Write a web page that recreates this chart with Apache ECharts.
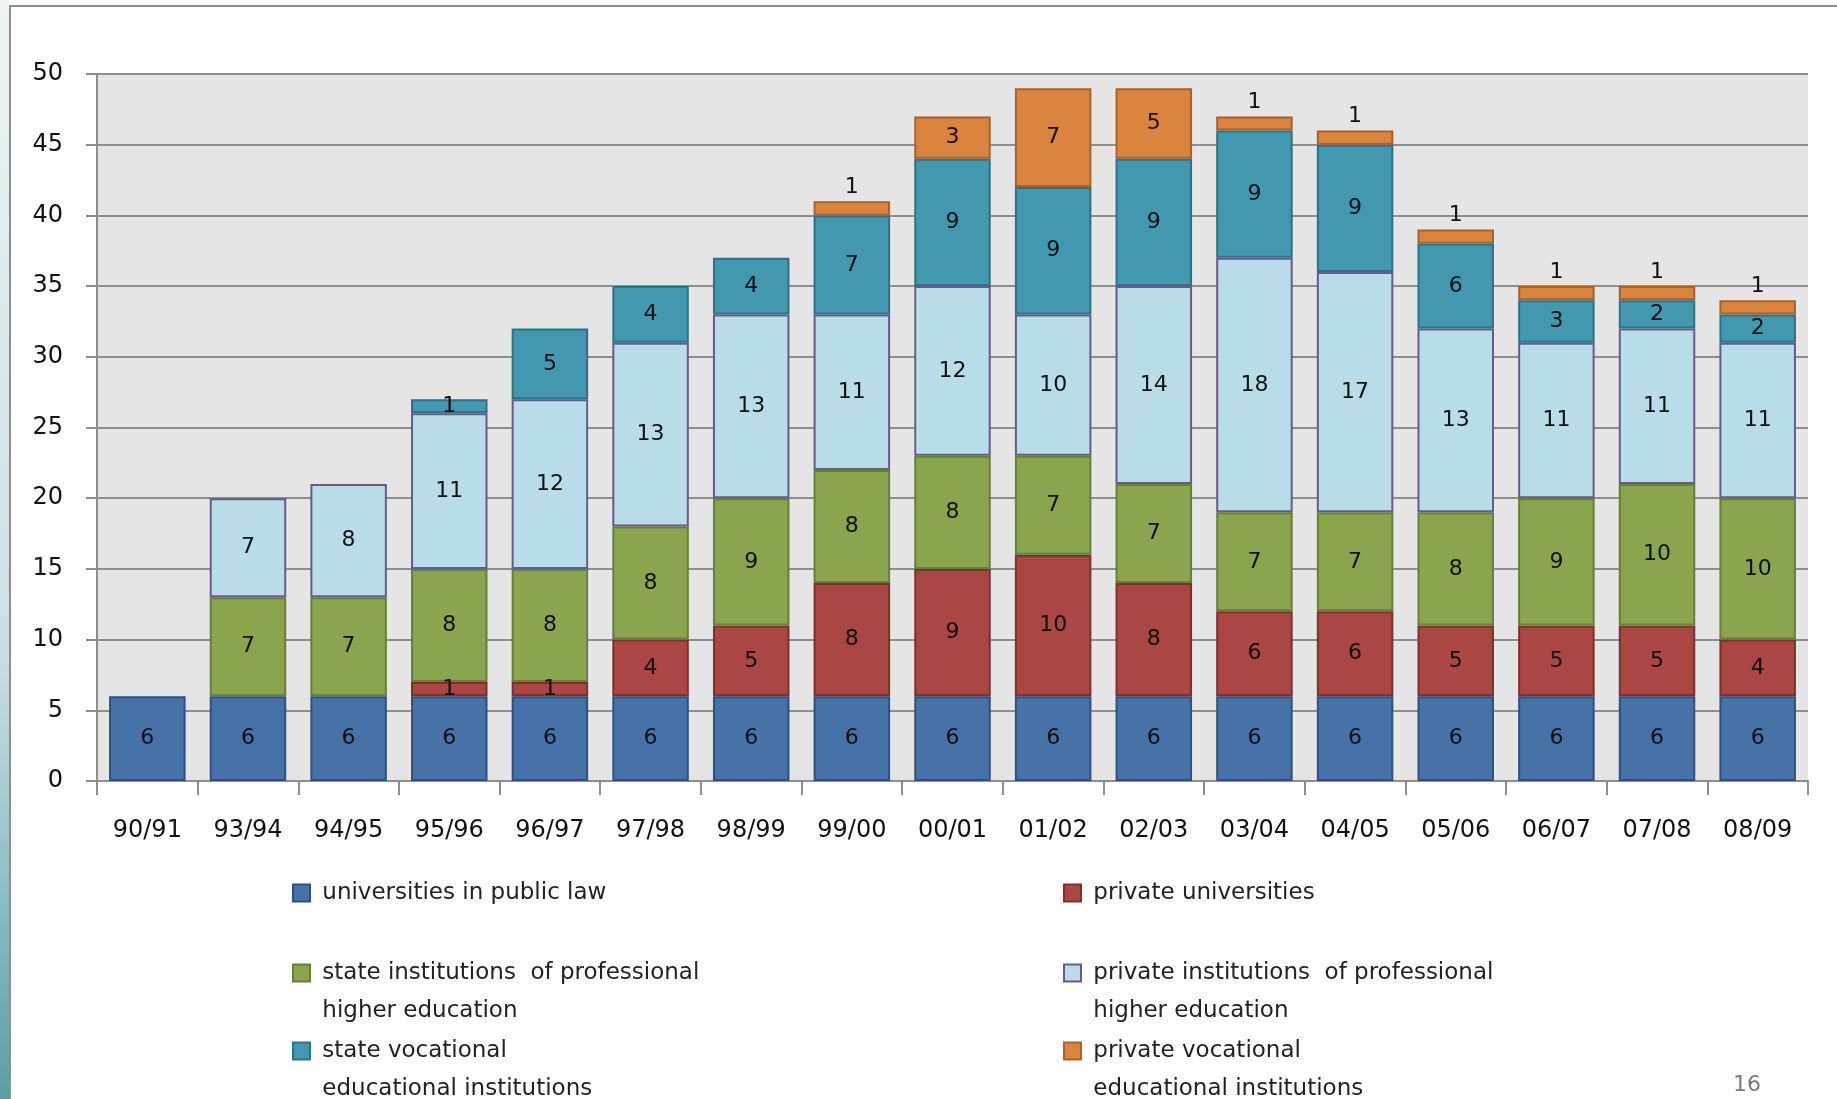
<!DOCTYPE html>
<html>
<head>
<meta charset="utf-8">
<script src="https://cdn.jsdelivr.net/npm/echarts@6/dist/echarts.min.js"></script>
<style>
  html, body { margin: 0; padding: 0; background: #fff; }
  #chart { width: 1837px; height: 1099px; }
</style>
</head>
<body>
<div id="chart"></div>
<script>
const years = ['90/91', '93/94', '94/95', '95/96', '96/97', '97/98', '98/99', '99/00', '00/01',
  '01/02', '02/03', '03/04', '04/05', '05/06', '06/07', '07/08', '08/09']

const seriesNames = [
  'universities in public law',
  'private universities',
  'state institutions  of professional\nhigher education',
  'private institutions  of professional\nhigher education',
  'state vocational\neducational institutions',
  'private vocational\neducational institutions'
]

const publicUniv = [6, 6, 6, 6, 6, 6, 6, 6, 6, 6, 6, 6, 6, 6, 6, 6, 6]
const privateUniv = [0, 0, 0, 1, 1, 4, 5, 8, 9, 10, 8, 6, 6, 5, 5, 5, 4]
const stateProf = [0, 7, 7, 8, 8, 8, 9, 8, 8, 7, 7, 7, 7, 8, 9, 10, 10]
const privateProf = [0, 7, 8, 11, 12, 13, 13, 11, 12, 10, 14, 18, 17, 13, 11, 11, 11]
const stateVoc = [0, 0, 0, 1, 5, 4, 4, 7, 9, 9, 9, 9, 9, 6, 3, 2, 2]
const privateVoc = [0, 0, 0, 0, 0, 0, 0, 1, 3, 7, 5, 1, 1, 1, 1, 1, 1]

const yTicks = [0, 5, 10, 15, 20, 25, 30, 35, 40, 45, 50]

const values = [publicUniv, privateUniv, stateProf, privateProf, stateVoc, privateVoc]
const fills = ['#4672a8', '#aa4643', '#89a54e', '#b8dde8', '#4198af', '#db843d']
const borders = ['#2f5180', '#7e302e', '#66803a', '#6a5a8c', '#2e7286', '#a8622a']

const FONT = 'DejaVu Sans'
const LH = 38

const chart = echarts.init(document.getElementById('chart'))

const series = values.map((arr, i) => ({
  name: seriesNames[i],
  type: 'bar',
  stack: 'total',
  barCategoryGap: '24%',
  itemStyle: { color: fills[i], borderColor: borders[i], borderWidth: 2 },
  label: {
    show: true,
    position: 'inside',
    color: '#111',
    fontFamily: FONT,
    fontSize: 22
  },
  data: arr.map(v => {
    if (!v) return '-'
    // small orange segments carry their label above the bar
    if (i === 5 && v === 1) return { value: v, label: { position: 'top', distance: 3 } }
    return v
  })
}))

// one legend per entry so they sit in a two-column grid
// icon centre y for each entry; two-line names get a blank first line so the
// icon lines up with the first line of text
const legendPos = [
  [287, 888], [1058, 888],
  [287, 968], [1058, 968],
  [287, 1046], [1058, 1046]
]
const legends = seriesNames.map((n, i) => {
  const multi = n.indexOf('\n') >= 0
  return {
    data: [n],
    left: legendPos[i][0],
    top: legendPos[i][1] - (multi ? LH * 1.5 : LH / 2),
    icon: 'rect',
    itemWidth: 17,
    itemHeight: 17,
    selectedMode: false,
    formatter: name => {
      const txt = name.split('\n').map(s => ' ' + s).join('\n')
      return multi ? '\n' + txt : txt
    },
    textStyle: {
      fontFamily: FONT,
      fontSize: 23,
      color: '#222',
      lineHeight: LH
    }
  }
})

const option = {
  backgroundColor: '#fff',
  animation: false,
  grid: { left: 97, right: 29, top: 74, bottom: 318, show: true, backgroundColor: '#e5e5e5', borderWidth: 0 },
  legend: legends,
  xAxis: {
    type: 'category',
    data: years,
    axisLine: { lineStyle: { color: '#8e8e8e', width: 2 } },
    axisTick: { show: true, length: 14, lineStyle: { color: '#8e8e8e', width: 2 } },
    axisLabel: { color: '#111', fontFamily: FONT, fontSize: 24, margin: 38, interval: 0 }
  },
  yAxis: {
    type: 'value',
    min: yTicks[0],
    max: yTicks[yTicks.length - 1],
    interval: yTicks[1] - yTicks[0],
    axisLine: { show: true, lineStyle: { color: '#8e8e8e', width: 2 } },
    axisTick: { show: true, length: 11, lineStyle: { color: '#8e8e8e', width: 2 } },
    splitLine: { lineStyle: { color: '#8e8e8e', width: 2 } },
    axisLabel: { color: '#111', fontFamily: FONT, fontSize: 24, margin: 34 }
  },
  graphic: [
    {
      type: 'rect',
      shape: { x: 0, y: 0, width: 9, height: 1099 },
      style: {
        fill: new echarts.graphic.LinearGradient(0, 0, 0, 1, [
          { offset: 0, color: '#eef4f5' },
          { offset: 0.6, color: '#c9dfe2' },
          { offset: 1, color: '#5a9ea6' }
        ])
      },
      silent: true
    },
    {
      type: 'rect',
      shape: { x: 10, y: 6, width: 1840, height: 1110 },
      style: { fill: 'none', stroke: '#8f8f8f', lineWidth: 2 },
      silent: true,
      z: -1
    },
    {
      type: 'text',
      left: 1733,
      top: 1074,
      style: { text: '16', fontFamily: FONT, fontSize: 22, fill: '#7a7a7a' },
      silent: true
    }
  ],
  series
}

chart.setOption(option)
</script>
</body>
</html>
